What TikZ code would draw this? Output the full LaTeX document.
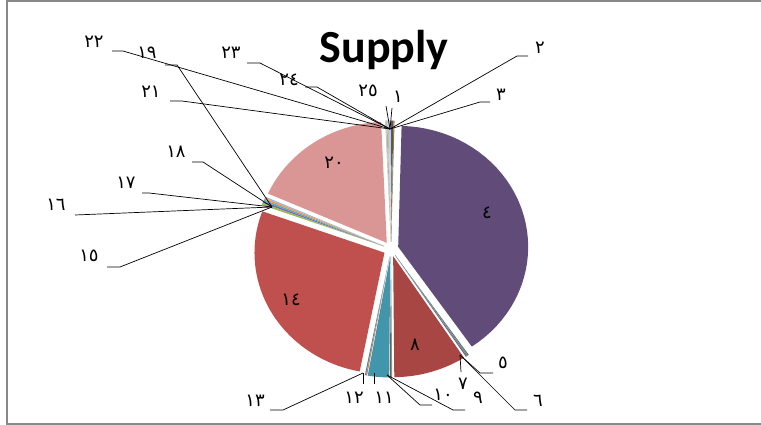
\documentclass[tikz,border=0pt]{standalone}
\usepackage{fontspec}
\setmainfont{Carlito}
\newfontfamily\arabicfont[Script=Arabic]{DejaVu Sans}
\definecolor{acA}{HTML}{4F81BD}
\definecolor{acB}{HTML}{C0504D}
\definecolor{acC}{HTML}{9BBB59}
\definecolor{acD}{HTML}{8064A2}
\definecolor{acE}{HTML}{4BACC6}
\definecolor{acF}{HTML}{F79646}
\definecolor{framegray}{HTML}{888888}
\newcommand\pieslice[3]{%
  \pgfmathsetmacro\pmid{(#1+#2)/2}%
  \pgfmathsetmacro\pax{391+7.5*cos(\pmid)}%
  \pgfmathsetmacro\pay{249-7.5*sin(\pmid)}%
  \fill[#3] (\pax,\pay) -- plot[domain=#1:#2, samples=40] ({\pax+130*cos(\x)},{\pay-121*sin(\x)}) -- cycle;
}
\tikzset{
  lbl/.style={font=\arabicfont\fontsize{18}{18}\selectfont, inner sep=0pt},
  inlbl/.style={font=\arabicfont\fontsize{18}{18}\selectfont, inner sep=0pt},
  leader/.style={draw=black, line width=0.7pt},
  titlestyle/.style={font=\bfseries\fontsize{46}{46}\selectfont, inner sep=0pt}
}
\begin{document}
\begin{tikzpicture}[x=1pt,y=-1pt]
\useasboundingbox (0,0) rectangle (761,425);
\fill[white] (0,0) rectangle (761,425);
% frame
\draw[framegray, line width=2pt] (7,425) -- (7,1) -- (761,1);
\draw[framegray, line width=2pt] (7,424) -- (761,424);
% title
\node[titlestyle] (title) at (384,50) {Supply};
% slices
\pieslice{90}{89.5}{acA!75!black}
\pieslice{89.5}{89}{acB!75!black}
\pieslice{89}{88.5}{acC!75!black}
\pieslice{88.5}{-55.5}{acD!75!black}
\pieslice{-55.5}{-56}{acE!75!black}
\pieslice{-56}{-56.5}{acF!75!black}
\pieslice{-56.5}{-57}{acA!87!black}
\pieslice{-57}{-89.5}{acB!87!black}
\pieslice{-89.5}{-90}{acC!87!black}
\pieslice{-90}{-90.5}{acD!87!black}
\pieslice{-90.5}{-100}{acE!87!black}
\pieslice{-100}{-100.5}{acF!87!black}
\pieslice{-100.5}{-101}{acA}
\pieslice{-101}{-200}{acB}
\pieslice{-200}{-201}{acC}
\pieslice{-201}{-201.8}{acD}
\pieslice{-201.8}{-202.6}{acE}
\pieslice{-202.6}{-203.4}{acF}
\pieslice{-203.4}{-204}{acA!60!white}
\pieslice{-204}{-267.5}{acB!60!white}
\pieslice{-267.5}{-268}{acC!60!white}
\pieslice{-268}{-268.5}{acD!60!white}
\pieslice{-268.5}{-269}{acE!60!white}
\pieslice{-269}{-269.5}{acF!60!white}
\pieslice{-269.5}{-270}{acA!40!white}
% inner labels
\node[inlbl] (l4) at (487,213) {٤};
\node[inlbl] (l8) at (415,345) {٨};
\node[inlbl] (l14) at (291,300) {١٤};
\node[inlbl] (l20) at (334,163) {٢٠};
% rim anchor points
\coordinate (top) at (390,129);
\coordinate (left) at (272,207);
\coordinate (botA) at (363,373);
\coordinate (botB) at (374,373);
\coordinate (botC) at (387,375);
\coordinate (rgt) at (460,355);
% outer labels
\node[lbl] (l1) at (398,97) {١};
\node[lbl] (l2) at (540,48) {٢};
\node[lbl] (l3) at (501,95) {٣};
\node[lbl] (l5) at (503,363) {٥};
\node[lbl] (l6) at (538,401) {٦};
\node[lbl] (l7) at (463,384) {٧};
\node[lbl] (l9) at (478,398) {٩};
\node[lbl] (l10) at (443,395) {١٠};
\node[lbl] (l11) at (384,398) {١١};
\node[lbl] (l12) at (354,398) {١٢};
\node[lbl] (l13) at (255,401) {١٣};
\node[lbl] (l15) at (89,256) {١٥};
\node[lbl] (l16) at (56,205) {١٦};
\node[lbl] (l17) at (126,183) {١٧};
\node[lbl] (l18) at (176,152) {١٨};
\node[lbl] (l19) at (147,53) {١٩};
\node[lbl] (l21) at (151,92) {٢١};
\node[lbl] (l22) at (94,42) {٢٢};
\node[lbl] (l23) at (231,53) {٢٣};
\node[lbl] (l24) at (289,80) {٢٤};
\node[lbl] (l25) at (368,91) {٢٥};
% leader end points
\coordinate (e1) at (392,108);
\coordinate (e25) at (386,106);
\coordinate (k2) at (517,56); \coordinate (e2) at (528,56);
\coordinate (k3) at (480,102); \coordinate (e3) at (490,102);
\coordinate (k24) at (317,87); \coordinate (e24) at (305,87);
\coordinate (k23) at (260,63); \coordinate (e23) at (247,63);
\coordinate (k22) at (123,51); \coordinate (e22) at (112,51);
\coordinate (k21) at (182,101); \coordinate (e21) at (170,101);
\coordinate (k19) at (177,65); \coordinate (e19) at (165,65);
\coordinate (k18) at (203,162); \coordinate (e18) at (192,162);
\coordinate (k17) at (149,193); \coordinate (e17) at (142,193);
\coordinate (e16) at (75,215);
\coordinate (k15) at (120,267); \coordinate (e15) at (107,267);
\coordinate (k13) at (283,410); \coordinate (e13) at (270,410);
\coordinate (e12) at (363,384);
\coordinate (e11) at (374,384);
\coordinate (k10) at (420,405); \coordinate (e10) at (432,405);
\coordinate (k9) at (453,410); \coordinate (e9) at (465,410);
\coordinate (e7) at (461,372);
\coordinate (k5) at (480,373); \coordinate (e5) at (493,373);
\coordinate (k6) at (515,410); \coordinate (e6) at (527,410);
% leaders
\draw[leader] (top) -- (e1);
\draw[leader] (top) -- (e25);
\draw[leader] (top) -- (k2) -- (e2);
\draw[leader] (top) -- (k3) -- (e3);
\draw[leader] (top) -- (k24) -- (e24);
\draw[leader] (top) -- (k23) -- (e23);
\draw[leader] (top) -- (k22) -- (e22);
\draw[leader] (top) -- (k21) -- (e21);
\draw[leader] (left) -- (k19) -- (e19);
\draw[leader] (left) -- (k18) -- (e18);
\draw[leader] (left) -- (k17) -- (e17);
\draw[leader] (left) -- (e16);
\draw[leader] (left) -- (k15) -- (e15);
\draw[leader] (botA) -- (k13) -- (e13);
\draw[leader] (botA) -- (e12);
\draw[leader] (botB) -- (e11);
\draw[leader] (botC) -- (k10) -- (e10);
\draw[leader] (botC) -- (k9) -- (e9);
\draw[leader] (rgt) -- (e7);
\draw[leader] (rgt) -- (k5) -- (e5);
\draw[leader] (rgt) -- (k6) -- (e6);
\end{tikzpicture}
\end{document}
